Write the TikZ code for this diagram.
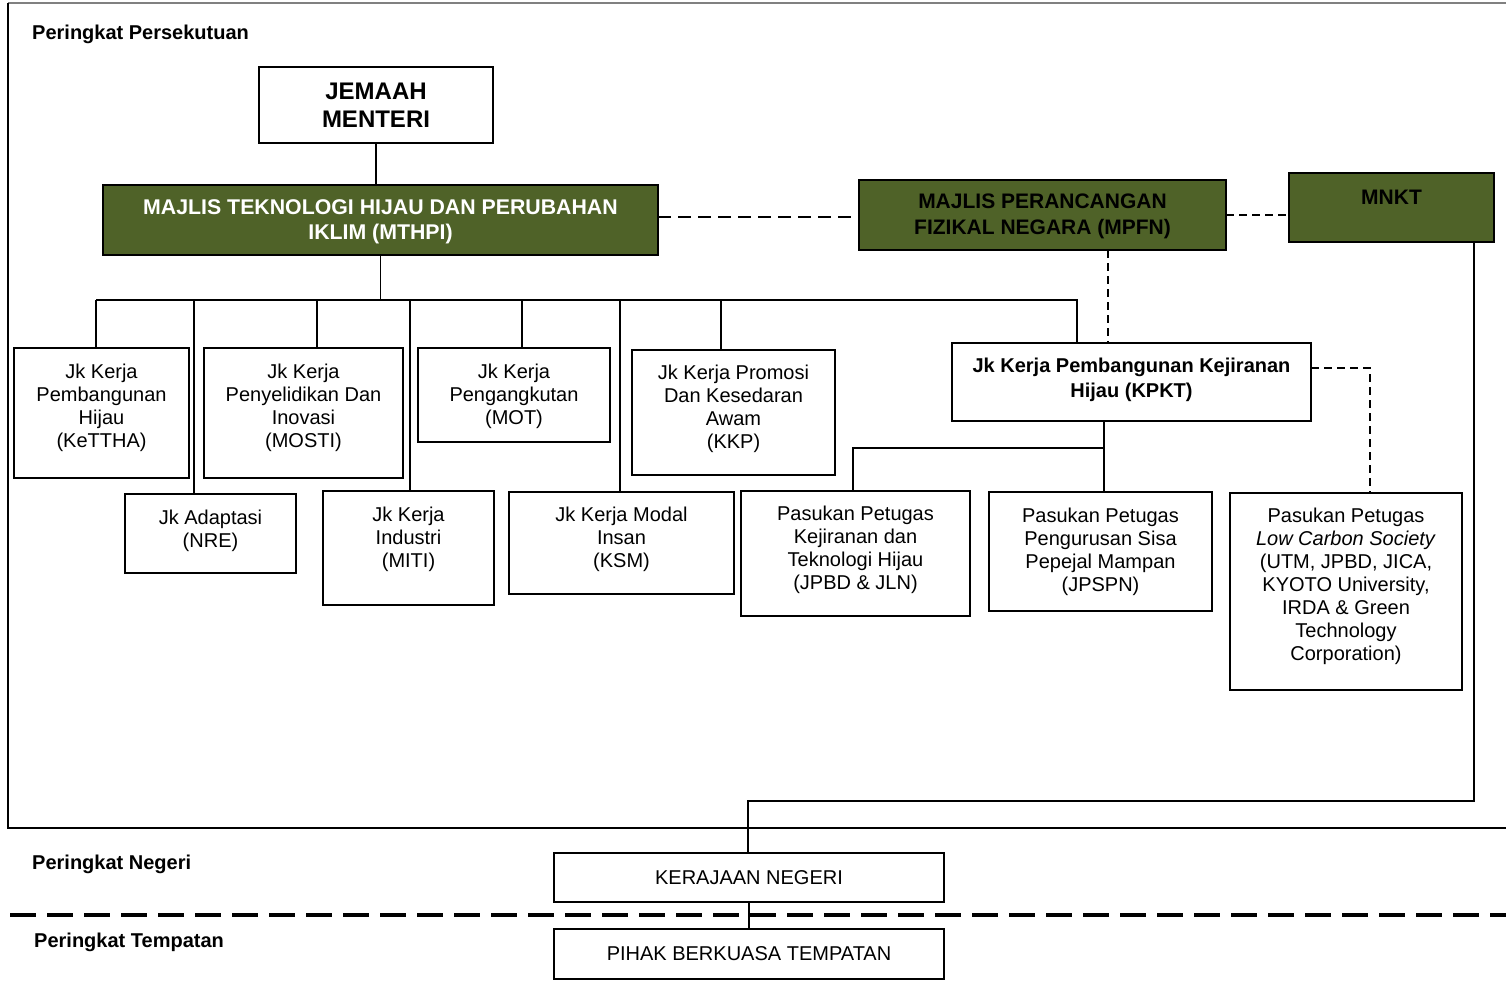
\documentclass[tikz,border=0pt]{standalone}
\usepackage{fontspec}
\setmainfont{Liberation Sans}
\definecolor{mgreen}{HTML}{4F6228}
\newcommand{\tbx}[4]{\parbox[c][#2][t]{#1}{\centering\rule{0pt}{#3}#4}}
\tikzset{
  bx/.style={draw, line width=1.8pt, inner sep=0pt, outer sep=0pt, anchor=north west, font=\fontsize{20}{23}\selectfont},
  gbx/.style={bx, fill=mgreen},
  conn/.style={line width=1.8pt},
  dashA/.style={line width=1.8pt, dash pattern=on 13pt off 7pt},
  dashB/.style={line width=1.8pt, dash pattern=on 8pt off 5pt},
  lvl/.style={anchor=base west, inner sep=0pt, font=\bfseries\fontsize{20}{23}\selectfont},
}
\begin{document}
\begin{tikzpicture}[x=1pt,y=-1pt]
\useasboundingbox (0,0) rectangle (1506,987);
% frame
\draw[line width=1.5pt, gray] (8,3) -- (1506,3);
\draw[line width=2pt] (8,3) -- (8,828) -- (1506,828);
\draw[line width=4pt, dash pattern=on 26pt off 11pt] (10,915) -- (1506,915);
% level labels
\node[lvl] (lp) at (32,40) {Peringkat Persekutuan};
\node[lvl] (ln) at (32,869) {Peringkat Negeri};
\node[lvl] (lt) at (34,947) {Peringkat Tempatan};
% top boxes
\node[bx, minimum width=234pt, minimum height=76pt, align=center, font=\bfseries\fontsize{24}{28}\selectfont] (jm) at (259,67) {JEMAAH\\MENTERI};
\node[gbx, text=white, font=\bfseries\fontsize{21.3}{25}\selectfont] (mthpi) at (103,185) {\tbx{555pt}{70pt}{29.6pt}{MAJLIS TEKNOLOGI HIJAU DAN PERUBAHAN\\IKLIM (MTHPI)}};
\node[gbx, font=\bfseries\fontsize{21}{26}\selectfont] (mpfn) at (859,180) {\tbx{367pt}{70pt}{28.8pt}{MAJLIS PERANCANGAN\\FIZIKAL NEGARA (MPFN)}};
\node[gbx, font=\bfseries\fontsize{21}{25}\selectfont] (mnkt) at (1289,173) {\tbx{205pt}{69pt}{31.5pt}{MNKT}};
% committees
\node[bx] (ketta) at (14,348) {\tbx{175pt}{130pt}{30pt}{Jk Kerja\\Pembangunan\\Hijau\\(KeTTHA)}};
\node[bx] (mosti) at (204,348) {\tbx{199pt}{130pt}{30pt}{Jk Kerja\\Penyelidikan Dan\\Inovasi\\(MOSTI)}};
\node[bx] (mot) at (418,348) {\tbx{192pt}{94pt}{30pt}{Jk Kerja\\Pengangkutan\\(MOT)}};
\node[bx] (kkp) at (632,350) {\tbx{203pt}{125pt}{29pt}{Jk Kerja Promosi\\Dan Kesedaran\\Awam\\(KKP)}};
\node[bx, font=\bfseries\fontsize{20}{25}\selectfont] (kpkt) at (952,343) {\tbx{359pt}{78pt}{29pt}{Jk Kerja Pembangunan Kejiranan\\Hijau (KPKT)}};
\node[bx] (nre) at (125,494) {\tbx{171pt}{79pt}{30pt}{Jk Adaptasi\\(NRE)}};
\node[bx] (miti) at (323,491) {\tbx{171pt}{114pt}{30pt}{Jk Kerja\\Industri\\(MITI)}};
\node[bx] (ksm) at (509,492) {\tbx{225pt}{102pt}{29pt}{Jk Kerja Modal\\Insan\\(KSM)}};
\node[bx] (jpbd) at (741,491) {\tbx{229pt}{125pt}{29pt}{Pasukan Petugas\\Kejiranan dan\\Teknologi Hijau\\(JPBD \& JLN)}};
\node[bx] (jpspn) at (989,492) {\tbx{223pt}{119pt}{30pt}{Pasukan Petugas\\Pengurusan Sisa\\Pepejal Mampan\\(JPSPN)}};
\node[bx] (lcs) at (1230,493) {\tbx{232pt}{197pt}{29pt}{Pasukan Petugas\\\textit{Low Carbon Society}\\(UTM, JPBD, JICA,\\KYOTO University,\\IRDA \& Green\\Technology\\Corporation)}};
% state / local
\node[bx, minimum width=390pt, minimum height=49pt] (kn) at (554,853) {KERAJAAN NEGERI};
\node[bx, minimum width=390pt, minimum height=50pt] (pbt) at (554,929) {PIHAK BERKUASA TEMPATAN};
% coordinates
\coordinate (busL) at (96,300);
\coordinate (busR) at (1077,300);
\coordinate (b2) at (194,300);
\coordinate (b3) at (317,300);
\coordinate (b4) at (410,300);
\coordinate (b5) at (522,300);
\coordinate (b6) at (620,300);
\coordinate (b7) at (721,300);
\coordinate (dv) at (1108,300);
\coordinate (dm) at (700,217);
\coordinate (dk) at (1370,368);
\coordinate (kb) at (1104,448);
\coordinate (kb2) at (853,448);
\coordinate (mk) at (1474,801);
\coordinate (mk2) at (748,801);
% connectors
\draw[conn] (jm.south) -- (jm.south |- mthpi.north);
\draw[conn] (mthpi.south) -- (mthpi.south |- busL);
\draw[conn] (busL) -- (busR) -- (busR |- kpkt.north);
\draw[conn] (busL) -- (busL |- ketta.north);
\draw[conn] (b2) -- (b2 |- nre.north);
\draw[conn] (b3) -- (b3 |- mosti.north);
\draw[conn] (b4) -- (b4 |- miti.north);
\draw[conn] (b5) -- (b5 |- mot.north);
\draw[conn] (b6) -- (b6 |- ksm.north);
\draw[conn] (b7) -- (b7 |- kkp.north);
\draw[dashA] (mthpi.east |- dm) -- (mpfn.west |- dm);
\draw[dashB] (mpfn.east) -- (mpfn.east -| mnkt.west);
\draw[dashB] (dv |- mpfn.south) -- (dv |- kpkt.north);
\draw[dashB] (kpkt.east |- dk) -- (dk) -- (dk |- lcs.north);
\draw[conn] (kb |- kpkt.south) -- (kb |- jpspn.north);
\draw[conn] (kb) -- (kb2) -- (kb2 |- jpbd.north);
\draw[conn] (mk |- mnkt.south) -- (mk) -- (mk2) -- (mk2 |- kn.north);
\draw[conn] (kn.south) -- (pbt.north);
\end{tikzpicture}
\end{document}
